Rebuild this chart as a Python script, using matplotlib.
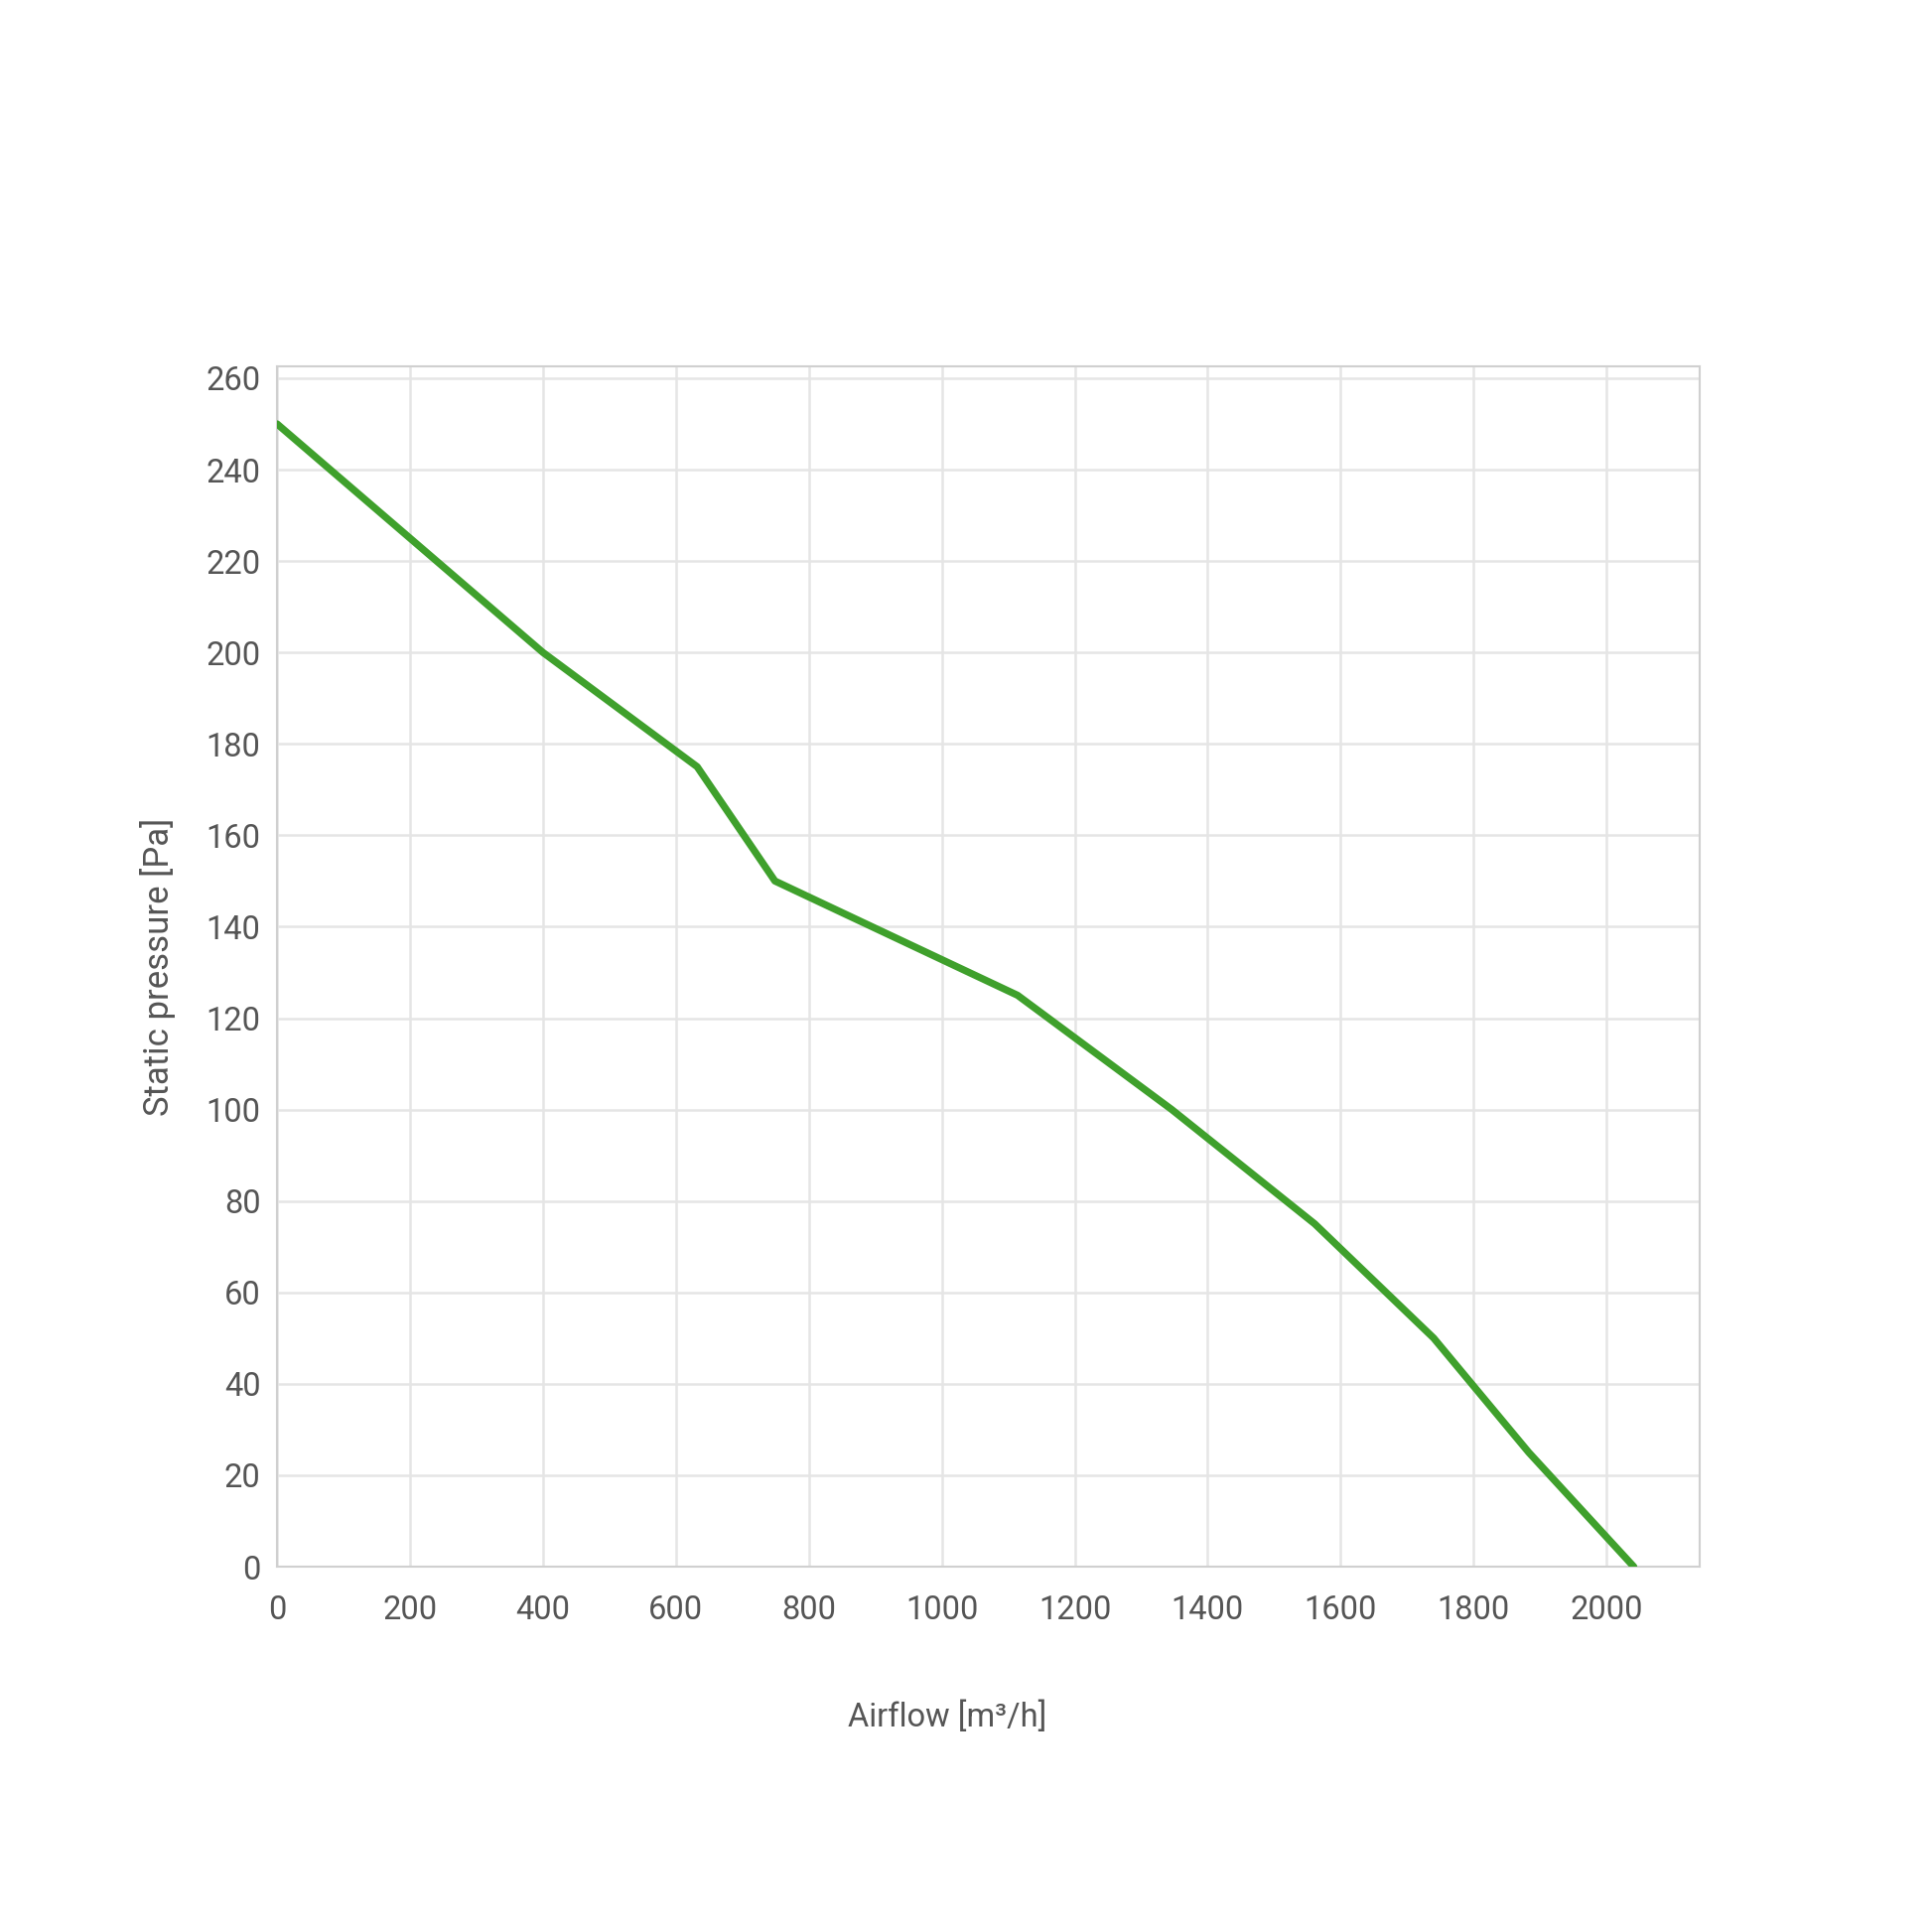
import matplotlib
matplotlib.use("Agg")
import matplotlib.pyplot as plt

airflow = [0, 200, 400, 632, 749, 1114, 1346, 1561, 1740, 1883, 2041]
pressure = [250, 225, 200, 175, 150, 125, 100, 75, 50, 25, 0]
x_ticks = [0, 200, 400, 600, 800, 1000, 1200, 1400, 1600, 1800, 2000]
y_ticks = [0, 20, 40, 60, 80, 100, 120, 140, 160, 180, 200, 220, 240, 260]

plt.rcParams['font.family'] = ['Roboto', 'DejaVu Sans']

fig = plt.figure(figsize=(19.46, 19.46), dpi=100)
ax = fig.add_axes([0.1434, 0.1891, 0.8797 - 0.1434, 0.8104 - 0.1891])

ax.plot(airflow, pressure, color='#3fa02c', lw=5.2, solid_capstyle='round', solid_joinstyle='round', zorder=3)

ax.set_xlim(0, 2140)
ax.set_ylim(0, 262.6)
ax.set_xticks(x_ticks)
ax.set_yticks(y_ticks)
ax.grid(True, color='#e5e5e5', lw=1.8)
ax.set_axisbelow(True)
for s in ax.spines.values():
    s.set_color('#d0d0d0')
    s.set_linewidth(1.5)
ax.tick_params(length=0, labelsize=23.5, labelcolor='#555555')
ax.tick_params(axis='x', pad=20)
ax.tick_params(axis='y', pad=12)

ax.set_xlabel('Airflow [m³/h]', fontsize=23.5, color='#555555')
ax.xaxis.set_label_coords(0.471, -0.112)
ax.set_ylabel('Static pressure [Pa]', fontsize=25, color='#555555')
ax.yaxis.set_label_coords(-0.071, 0.5)

fig.savefig('out.png', dpi=100, facecolor='white')
